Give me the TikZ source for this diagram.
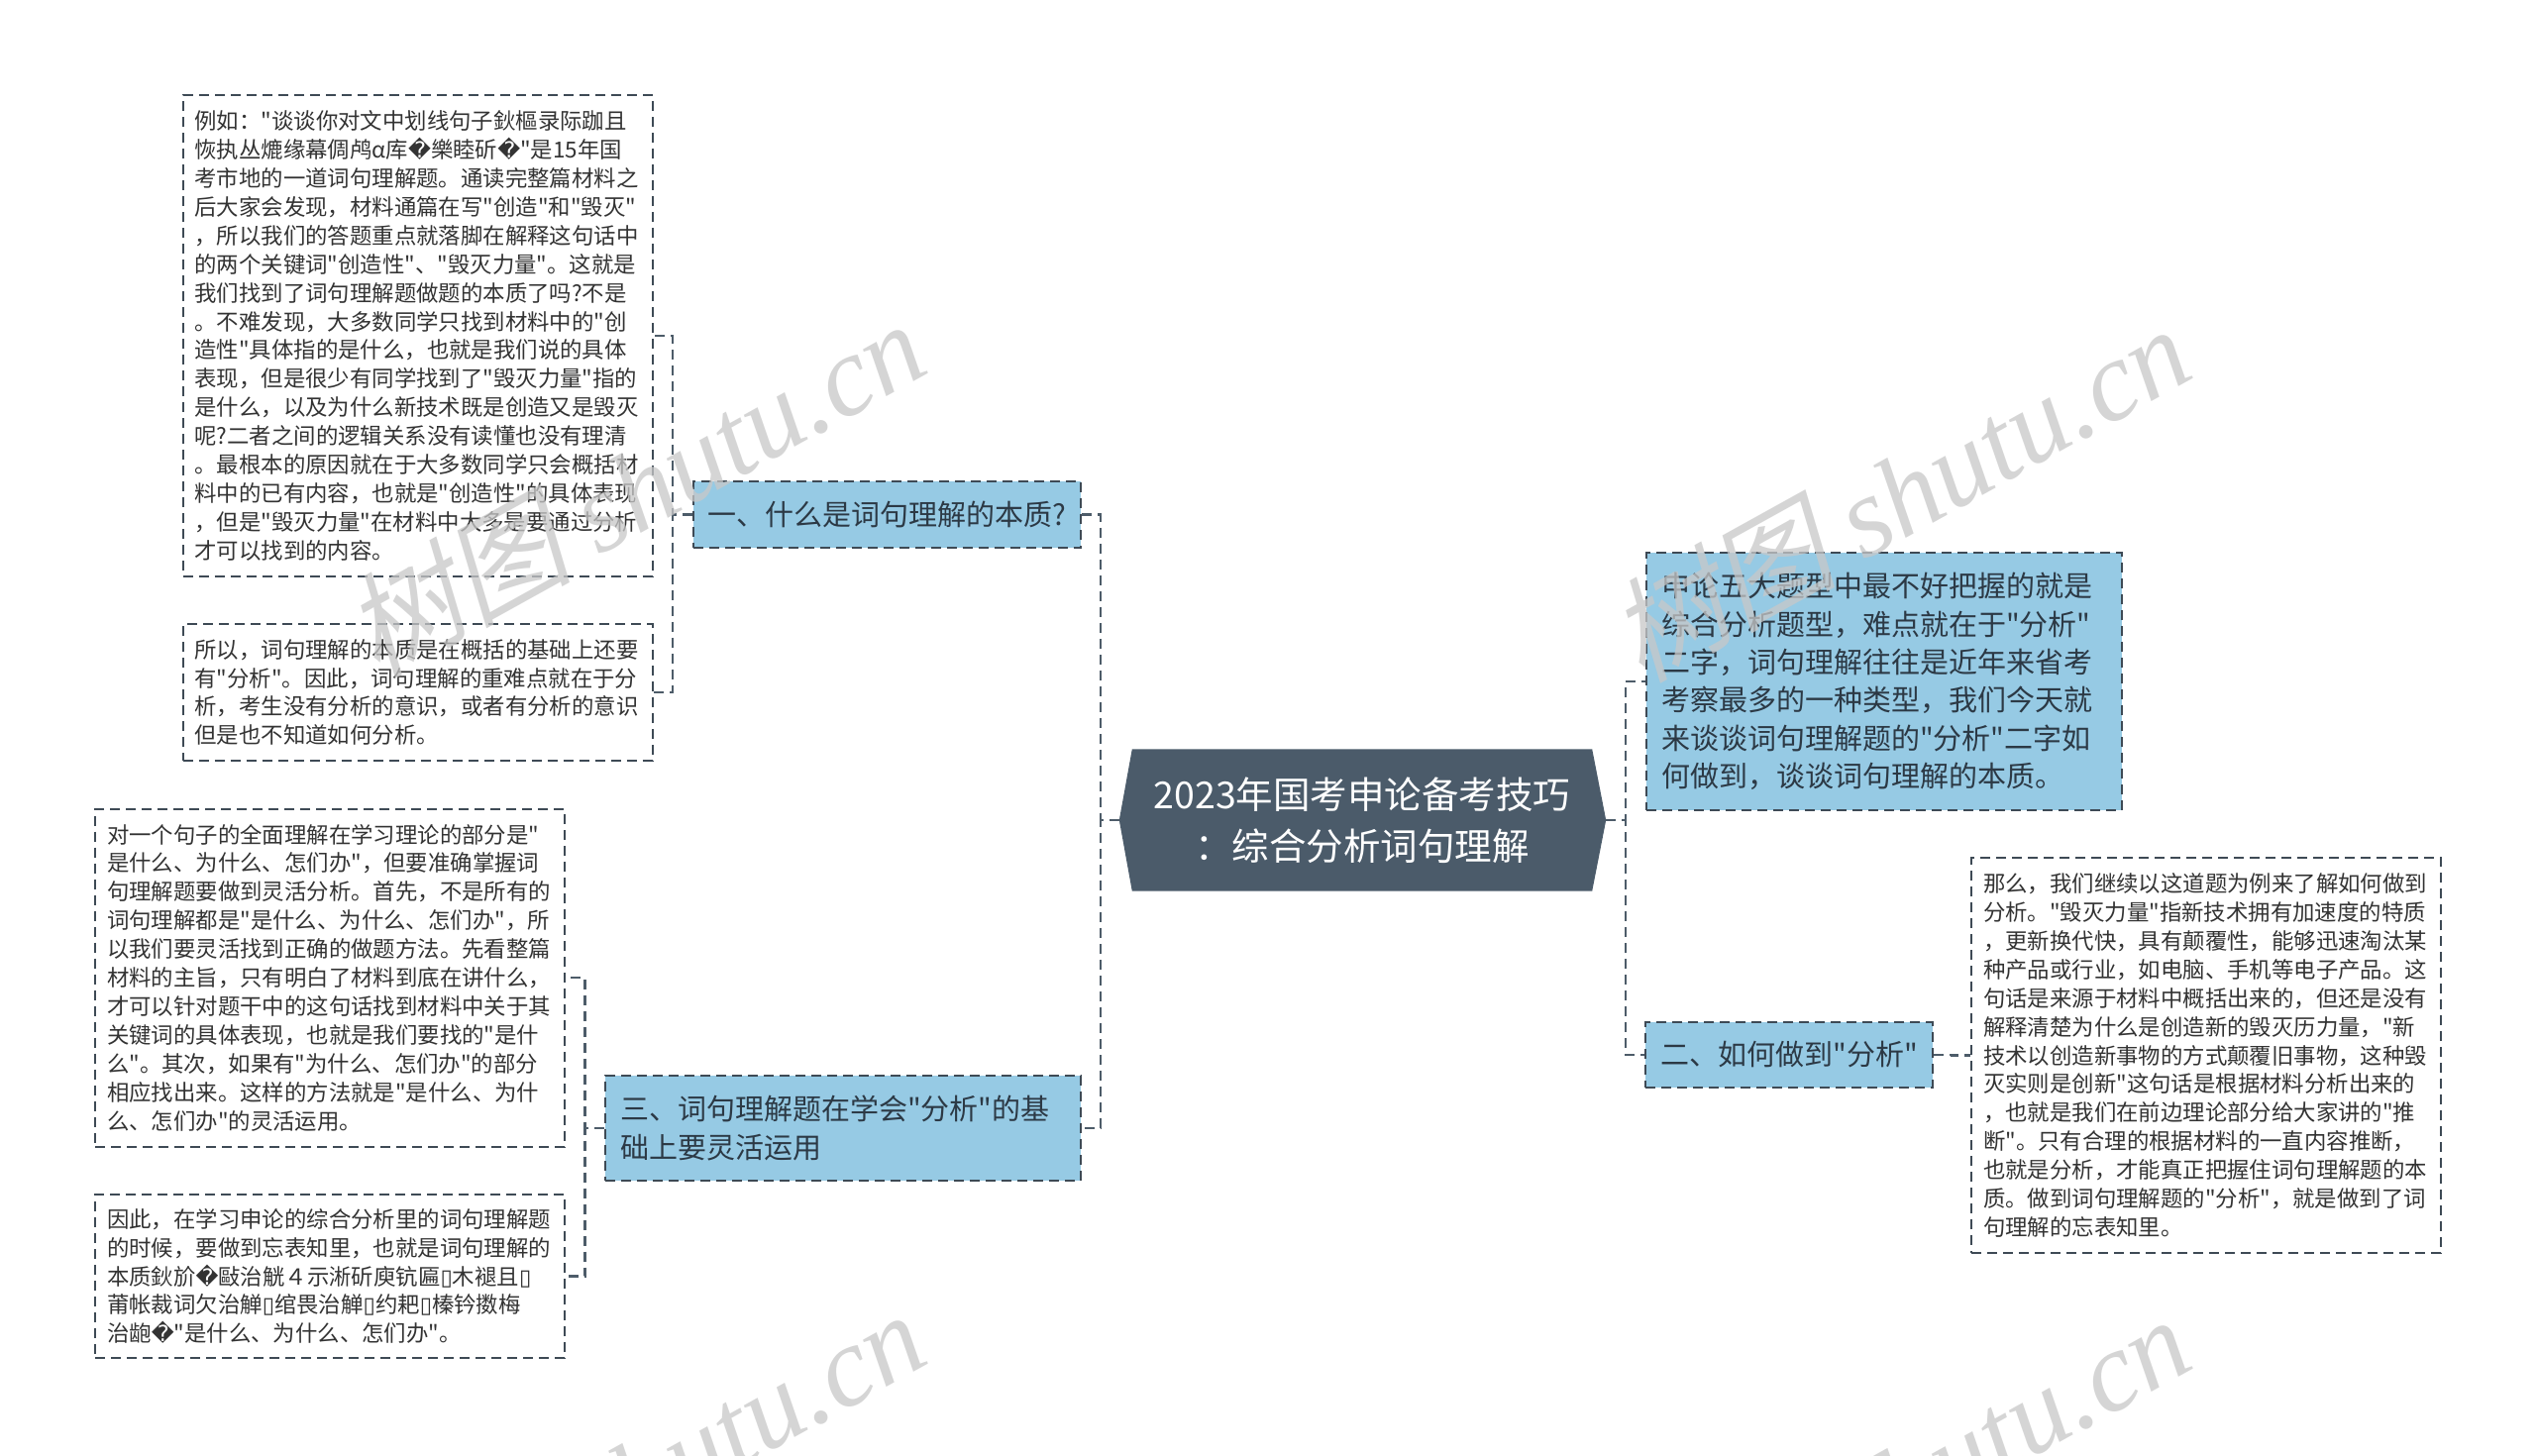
\documentclass[tikz,border=0pt]{standalone}
\usepackage{fontspec}
\setmainfont{Noto Sans CJK SC}[Ligatures=TeXOff]
\newfontfamily\djv{DejaVu Sans}
\newfontfamily\wmserif{Liberation Serif}
\newfontfamily\wmcjk{Noto Sans CJK SC}[FakeSlant=0.22]
\usetikzlibrary{calc,backgrounds}
\definecolor{bordc}{HTML}{3E4A55}
\definecolor{connc}{HTML}{4D5C69}
\definecolor{txtc}{HTML}{333333}
\definecolor{btxtc}{HTML}{2C3945}
\definecolor{bluec}{HTML}{96CAE4}
\definecolor{rootc}{HTML}{4B5B6A}
\definecolor{wmc}{HTML}{C8C8C8}
\newcommand\qm{{\djv\char"FFFD}}
\newcommand\tofu{{\djv\char"25AF}}
\newcommand\linkto[2]{\draw[conn] (#1) -| ($(#1)!0.5!(#2)$) |- (#2);}
\begin{document}
\begin{tikzpicture}[x=1pt,y=-1pt,
  conn/.style={draw=connc, line width=2.4pt, dash pattern=on 10pt off 6pt},
  leaf/.style={draw=bordc, line width=2pt, dash pattern=on 10pt off 6pt, fill=white,
    text=txtc, font=\fontsize{22.4}{28.9}\selectfont, align=left, text width=450pt,
    inner xsep=12pt, inner ysep=0pt, minimum width=474pt},
  bluebox/.style={draw=bordc, line width=2pt, dash pattern=on 10pt off 6pt, fill=bluec,
    text=btxtc, font=\fontsize{29}{38.4}\selectfont, inner xsep=15pt, inner ysep=0pt},
  rootnode/.style={text=white, font=\fontsize{37.5}{52}\selectfont, align=center,
    inner sep=0pt, minimum width=464pt, minimum height=143pt},
  wm/.style={text=wmc, opacity=0.75, font=\fontsize{115}{120}\selectfont, inner sep=0pt, rotate=29}
]
\begin{scope}[on background layer]
\fill[white] (0,0) rectangle (2560,1470);
\end{scope}
\useasboundingbox (0,0) rectangle (2560,1470);

% root
\node[rootnode] (root) at (1375,828) {2023年国考申论备考技巧\\：综合分析词句理解};
\coordinate (rootL) at ([xshift=-13pt]root.west);
\coordinate (rootR) at ([xshift=14pt]root.east);
\begin{scope}[on background layer]
\fill[rootc] (root.north west) -- (root.north east) -- (rootR) -- (root.south east)
  -- (root.south west) -- (rootL) -- cycle;
\end{scope}

% branches
\node[bluebox, align=center, minimum width=391pt, minimum height=67pt] (L1) at (895.5,519.5)
  {一、什么是词句理解的本质?};
\node[bluebox, align=left, text width=450pt, minimum height=106pt] (L3) at (851,1139)
  {三、词句理解题在学会"分析"的基\\础上要灵活运用};
\node[bluebox, align=left, text width=450pt, minimum height=260pt] (R1) at (1902,688)
  {申论五大题型中最不好把握的就是\\
   综合分析题型，难点就在于"分析"\\
   二字，词句理解往往是近年来省考\\
   考察最多的一种类型，我们今天就\\
   来谈谈词句理解题的"分析"二字如\\
   何做到，谈谈词句理解的本质。};
\node[bluebox, align=center, minimum width=286pt, minimum height=66pt] (R2) at (1806,1065)
  {二、如何做到"分析"};

% leaves
\node[leaf, minimum height=486pt] (A) at (421.5,339)
  {例如："谈谈你对文中划线句子鈥樞录际跏且\\
   恢执丛熝缘幕倜鸬α库\qm{}樂睦斫\qm{}"是15年国\\
   考市地的一道词句理解题。通读完整篇材料之\\
   后大家会发现，材料通篇在写"创造"和"毁灭"\\
   ，所以我们的答题重点就落脚在解释这句话中\\
   的两个关键词"创造性"、"毁灭力量"。这就是\\
   我们找到了词句理解题做题的本质了吗?不是\\
   。不难发现，大多数同学只找到材料中的"创\\
   造性"具体指的是什么，也就是我们说的具体\\
   表现，但是很少有同学找到了"毁灭力量"指的\\
   是什么，以及为什么新技术既是创造又是毁灭\\
   呢?二者之间的逻辑关系没有读懂也没有理清\\
   。最根本的原因就在于大多数同学只会概括材\\
   料中的已有内容，也就是"创造性"的具体表现\\
   ，但是"毁灭力量"在材料中大多是要通过分析\\
   才可以找到的内容。};
\node[leaf, minimum height=138pt] (B) at (421.5,699)
  {所以，词句理解的本质是在概括的基础上还要\\
   有"分析"。因此，词句理解的重难点就在于分\\
   析，考生没有分析的意识，或者有分析的意识\\
   但是也不知道如何分析。};
\node[leaf, minimum height=341pt] (C) at (333,987)
  {对一个句子的全面理解在学习理论的部分是"\\
   是什么、为什么、怎们办"，但要准确掌握词\\
   句理解题要做到灵活分析。首先，不是所有的\\
   词句理解都是"是什么、为什么、怎们办"，所\\
   以我们要灵活找到正确的做题方法。先看整篇\\
   材料的主旨，只有明白了材料到底在讲什么，\\
   才可以针对题干中的这句话找到材料中关于其\\
   关键词的具体表现，也就是我们要找的"是什\\
   么"。其次，如果有"为什么、怎们办"的部分\\
   相应找出来。这样的方法就是"是什么、为什\\
   么、怎们办"的灵活运用。};
\node[leaf, minimum height=165pt] (D) at (333,1288.5)
  {因此，在学习申论的综合分析里的词句理解题\\
   的时候，要做到忘表知里，也就是词句理解的\\
   本质鈥斺\qm{}敺治觥４示淅斫庾钪匾\tofu{}木褪且\tofu\\
   莆帐裁词欠治觯\tofu{}绾畏治觯\tofu{}约耙\tofu{}榛钤擞梅\\
   治龅\qm{}"是什么、为什么、怎们办"。};
\node[leaf, minimum height=399pt] (E) at (2227,1065.5)
  {那么，我们继续以这道题为例来了解如何做到\\
   分析。"毁灭力量"指新技术拥有加速度的特质\\
   ，更新换代快，具有颠覆性，能够迅速淘汰某\\
   种产品或行业，如电脑、手机等电子产品。这\\
   句话是来源于材料中概括出来的，但还是没有\\
   解释清楚为什么是创造新的毁灭历力量，"新\\
   技术以创造新事物的方式颠覆旧事物，这种毁\\
   灭实则是创新"这句话是根据材料分析出来的\\
   ，也就是我们在前边理论部分给大家讲的"推\\
   断"。只有合理的根据材料的一直内容推断，\\
   也就是分析，才能真正把握住词句理解题的本\\
   质。做到词句理解题的"分析"，就是做到了词\\
   句理解的忘表知里。};

% connectors
\linkto{rootL}{L1.east}
\linkto{rootL}{L3.east}
\linkto{rootR}{R1.west}
\linkto{rootR}{R2.west}
\linkto{L1.west}{A.east}
\linkto{L1.west}{B.east}
\linkto{L3.west}{C.east}
\linkto{L3.west}{D.east}
\linkto{R2.east}{E.west}

% watermarks
\begin{scope}
\clip (0,0) rectangle (2560,1470);
\node[wm] (wm1) at (640,492) {{\wmcjk 树图} {\wmserif\itshape shutu.cn}};
\node[wm] (wm2) at (1917,497) {{\wmcjk 树图} {\wmserif\itshape shutu.cn}};
\node[wm] (wm3) at (640,1492) {{\wmcjk 树图} {\wmserif\itshape shutu.cn}};
\node[wm] (wm4) at (1917,1497) {{\wmcjk 树图} {\wmserif\itshape shutu.cn}};
\end{scope}
\end{tikzpicture}
\end{document}
